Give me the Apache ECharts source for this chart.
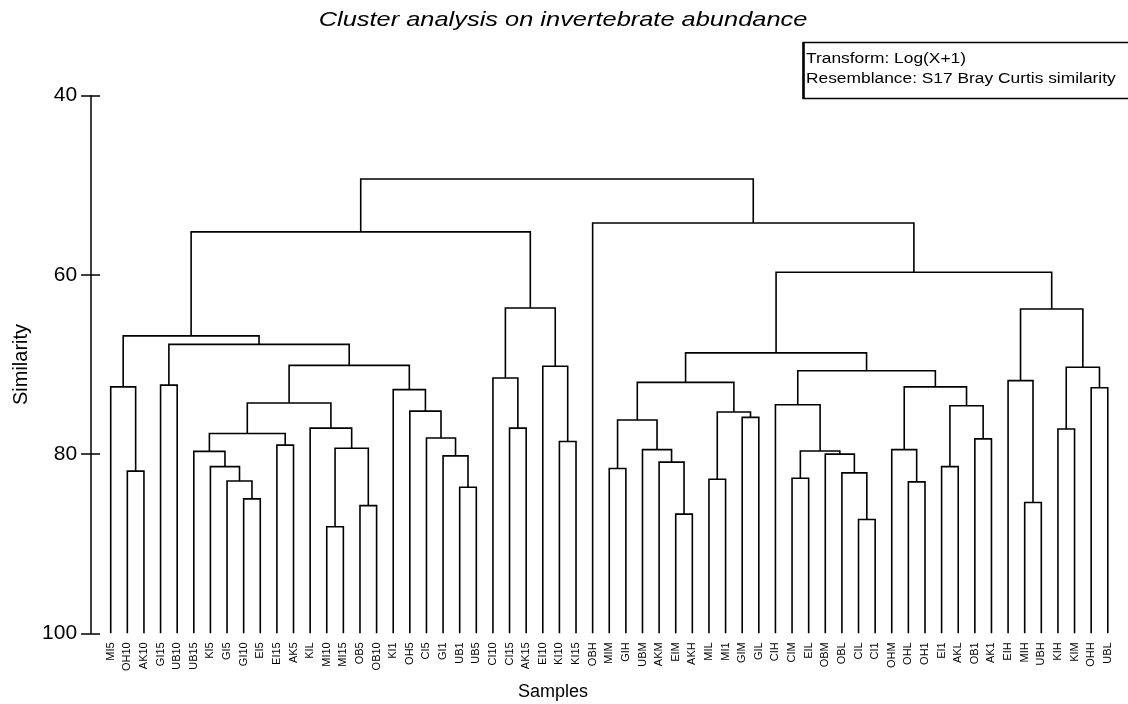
<!DOCTYPE html>
<html>
<head>
<meta charset="utf-8">
<script src="https://cdn.jsdelivr.net/npm/echarts@6/dist/echarts.min.js"></script>
<style>
  html, body { margin: 0; padding: 0; background: #fff; }
  #chart { width: 1128px; height: 704px; }
</style>
</head>
<body>
<div id="chart"></div>
<script>
// Samples in dendrogram order (left to right)
const leaves = [
  'MI5','OH10','AK10','GI15','UB10','UB15','KI5','GI5','GI10','EI5',
  'EI15','AK5','KIL','MI10','MI15','OB5','OB10','KI1','OH5','CI5',
  'GI1','UB1','UB5','CI10','CI15','AK15','EI10','KI10','KI15','OBH',
  'MIM','GIH','UBM','AKM','EIM','AKH','MIL','MI1','GIM','GIL',
  'CIH','CIM','EIL','OBM','OBL','CIL','CI1','OHM','OHL','OH1',
  'EI1','AKL','OB1','AK1','EIH','MIH','UBH','KIH','KIM','OHH','UBL'
];

// Agglomeration steps: [child A, child B, similarity at which they join].
// A child is either a sample name or the number of an earlier step.
const mergeA = [
  'OH10','MI5','GI15','GI10','GI5','KI5','UB15','EI15',6,'MI10',
  'OB5',9,'KIL',8,'UB1','GI1','CI5','OH5','KI1',13,
  2,1,'CI15','CI10','KI10','EI10',23,21,'MIM','EIM',
  'AKM','UBM',28,'MIL','GIM',33,32,'CIM','CIL','OBL',
  'OBM',37,'CIH','OHL','OHM','EI1','OB1',45,44,42,
  36,'MIH','EIH','KIH','OHH',53,52,50,'OBH',27
];
const mergeB = [
  'AK10',0,'UB10','EI5',3,4,5,'AK5',7,'MI15',
  'OB10',10,11,12,'UB5',14,15,16,17,18,
  19,20,'AK15',22,'KI15',24,25,26,'GIH','AKH',
  29,30,31,'MI1','GIL',34,35,'EIL','CI1',38,
  39,40,41,'OH1',43,'AKL','AK1',46,47,48,
  49,'UBH',51,'KIM','UBL',54,55,56,57,58
];
const mergeSim = [
  81.9,72.5,72.3,85.0,83.0,81.4,79.7,79.0,77.7,88.1,
  85.75,79.35,77.1,74.3,83.7,80.2,78.2,75.2,72.8,70.1,
  67.75,66.8,77.1,71.5,78.6,70.2,63.7,55.2,81.6,86.7,
  80.9,79.5,76.2,82.8,75.9,75.3,72.0,82.7,87.3,82.1,
  80.0,79.65,74.5,83.1,79.5,81.4,78.3,74.6,72.5,70.7,
  68.7,85.4,71.8,77.2,72.6,70.3,63.8,59.7,54.2,49.3
];

const yTicks = [40, 60, 80, 100];
const leafLevel = 100;

// Position of each node along the sample axis and its joining level
const nodeX = [], nodeY = [];
function pos(c) {
  if (typeof c === 'number') return [nodeX[c], nodeY[c]];
  return [leaves.indexOf(c), leafLevel];
}
const links = [];
for (let i = 0; i < mergeSim.length; i++) {
  const a = pos(mergeA[i]);
  const b = pos(mergeB[i]);
  const h = mergeSim[i];
  nodeX[i] = (a[0] + b[0]) / 2;
  nodeY[i] = h;
  links.push({ coords: [[a[0], a[1]], [a[0], h], [b[0], h], [b[0], b[1]]] });
}

const FONT = 'Liberation Sans, Arial, sans-serif';
const chart = echarts.init(document.getElementById('chart'), null, { renderer: 'canvas' });

const yBase = {
  type: 'value',
  min: yTicks[0],
  max: yTicks[yTicks.length - 1],
  interval: 20,
  inverse: true,
  position: 'left',
  offset: 3,
  splitLine: { show: false }
};

chart.setOption({
  backgroundColor: '#fff',
  animation: false,
  grid: { left: 94.1, right: 3.6, top: 95.7, bottom: 70.7, containLabel: false },
  xAxis: {
    type: 'value',
    min: -1,
    max: 61,
    interval: 1,
    axisLine: { show: false },
    axisTick: { show: false },
    splitLine: { show: false },
    axisLabel: {
      rotate: 90,
      margin: 9,
      fontFamily: FONT,
      fontSize: 11,
      color: '#000',
      showMinLabel: true,
      showMaxLabel: true,
      formatter: v => (Number.isInteger(v) && v >= 0 && v < leaves.length) ? leaves[v] : ''
    }
  },
  yAxis: [
    Object.assign({}, yBase, {
      axisLine: { show: true, onZero: false, lineStyle: { color: '#000', width: 1.5 } },
      axisTick: { show: true, length: 10, lineStyle: { color: '#000', width: 1.5 } },
      axisLabel: { fontFamily: FONT, fontSize: 21, color: '#000', margin: 14 },
      name: 'Similarity',
      nameLocation: 'middle',
      nameGap: 58,
      nameTextStyle: { fontFamily: FONT, fontSize: 20, color: '#000' }
    }),
    Object.assign({}, yBase, {
      axisLine: { show: false, onZero: false },
      axisTick: { show: true, inside: true, length: 9, lineStyle: { color: '#000', width: 1.5 } },
      axisLabel: { show: false }
    })
  ],
  series: [{
    type: 'lines',
    coordinateSystem: 'cartesian2d',
    polyline: true,
    silent: true,
    lineStyle: { color: '#000', width: 1.6, opacity: 1 },
    data: links
  }],
  graphic: [
    {
      type: 'text',
      x: 563, y: 20,
      scaleX: 1.21,
      style: {
        text: 'Cluster analysis on invertebrate abundance',
        fontFamily: FONT, fontSize: 21, fontStyle: 'italic', fill: '#000',
        align: 'center', verticalAlign: 'middle'
      }
    },
    {
      type: 'rect',
      shape: { x: 803.5, y: 42.5, width: 340, height: 56 },
      style: { fill: '#fff', stroke: '#000', lineWidth: 1.5 }
    },
    {
      type: 'line',
      shape: { x1: 803.5, y1: 42, x2: 803.5, y2: 99 },
      style: { stroke: '#000', lineWidth: 2.5 }
    },
    {
      type: 'text',
      x: 806, y: 58.5,
      scaleX: 1.12,
      style: { text: 'Transform: Log(X+1)', fontFamily: FONT, fontSize: 15.5, fill: '#000', verticalAlign: 'middle' }
    },
    {
      type: 'text',
      x: 806, y: 78.5,
      scaleX: 1.12,
      style: { text: 'Resemblance: S17 Bray Curtis similarity', fontFamily: FONT, fontSize: 15.5, fill: '#000', verticalAlign: 'middle' }
    },
    {
      type: 'text',
      x: 553, y: 692,
      style: { text: 'Samples', fontFamily: FONT, fontSize: 18, fill: '#000', align: 'center', verticalAlign: 'middle' }
    }
  ]
});
</script>
</body>
</html>
